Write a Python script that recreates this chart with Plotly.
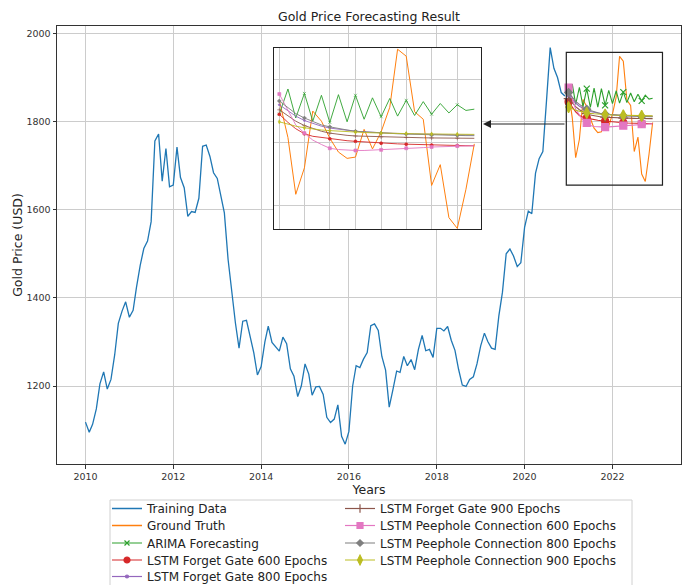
import pandas as pd
import plotly.graph_objects as go

# ---------------- data ----------------
train_start = "2010-01-01"
train_values = [
    1118, 1095, 1113, 1148, 1205, 1232, 1193, 1215, 1271, 1342, 1370, 1391,
    1356, 1372, 1424, 1474, 1512, 1529, 1573, 1756, 1772, 1665, 1739, 1652,
    1656, 1742, 1673, 1650, 1585, 1596, 1594, 1626, 1744, 1747, 1721, 1684,
    1671, 1627, 1593, 1487, 1414, 1343, 1286, 1347, 1349, 1316, 1275, 1225,
    1244, 1300, 1336, 1299, 1288, 1279, 1311, 1296, 1239, 1222, 1176, 1200,
    1250, 1227, 1179, 1198, 1199, 1181, 1129, 1117, 1125, 1157, 1086, 1068,
    1097, 1200, 1246, 1242, 1261, 1276, 1337, 1341, 1326, 1267, 1236, 1152,
    1192, 1234, 1231, 1267, 1246, 1260, 1237, 1283, 1315, 1280, 1283, 1265,
    1331, 1331, 1325, 1335, 1304, 1281, 1238, 1202, 1199, 1215, 1221, 1250,
    1291, 1320, 1301, 1286, 1283, 1359, 1413, 1500, 1511, 1495, 1471, 1480,
    1560, 1597, 1591, 1683, 1716, 1732, 1846, 1968, 1921, 1900, 1866, 1858,
]
test_start = "2021-01-01"
ground_truth = [1867, 1808, 1718, 1760, 1850, 1834, 1807, 1785, 1775, 1777, 1821, 1790,
                1817, 1856, 1948, 1937, 1849, 1837, 1732, 1765, 1681, 1664, 1726, 1798]
arima = [1845, 1885, 1839, 1878, 1834, 1875, 1832, 1876, 1833, 1875, 1837, 1871,
         1841, 1870, 1842, 1867, 1843, 1865, 1845, 1862, 1847, 1860, 1851, 1853]
fg600 = [1845, 1832, 1822, 1814, 1810, 1808, 1806, 1805, 1803, 1802, 1801, 1800,
         1799, 1798.5, 1798, 1797.5, 1797, 1796.5, 1796, 1795.8, 1795.5, 1795.3, 1795.1, 1795]
fg800 = [1860, 1850, 1842, 1835, 1830, 1826, 1823, 1821, 1819, 1818, 1817, 1816,
         1815.5, 1815, 1814.5, 1814, 1813.7, 1813.4, 1813.1, 1812.8, 1812.6, 1812.4, 1812.2, 1812]
fg900 = [1852, 1842, 1834, 1827, 1822, 1818, 1815, 1813, 1811.5, 1810.5, 1810, 1809.5,
         1809, 1808.7, 1808.4, 1808.1, 1807.8, 1807.6, 1807.4, 1807.2, 1807.1, 1807, 1806.9, 1806.8]
ph600 = [1877, 1850, 1828, 1815, 1804, 1797, 1791, 1789, 1788, 1787.5, 1787.5, 1788,
         1788.5, 1789, 1790, 1791, 1791.5, 1792, 1793, 1793.5, 1794, 1794.5, 1795, 1795]
ph800 = [1866, 1855, 1846, 1839, 1833, 1828, 1825, 1822, 1820, 1818, 1817, 1816,
         1815, 1814.5, 1814, 1813.5, 1813, 1812.5, 1812, 1811.8, 1811.5, 1811.3, 1811.1, 1811]
ph900 = [1833, 1829, 1826, 1823.5, 1821.5, 1820, 1819, 1818, 1817, 1816.5, 1816, 1815.5,
         1815, 1814.8, 1814.5, 1814.3, 1814, 1813.8, 1813.6, 1813.4, 1813.3, 1813.2, 1813.1, 1813]

train_dates = pd.date_range(train_start, periods=len(train_values), freq="MS")
test_dates = pd.date_range(test_start, periods=len(ground_truth), freq="MS")

# (name, values, color, symbol, main size, inset size)
forecasts = [
    ("ARIMA Forecasting", arima, "#2ca02c", "x-thin-open", 6, 3),
    ("LSTM Forget Gate 600 Epochs", fg600, "#d62728", "circle", 7, 3),
    ("LSTM Forget Gate 800 Epochs", fg800, "#9467bd", "circle", 4, 2),
    ("LSTM Forget Gate 900 Epochs", fg900, "#8c564b", "cross-thin-open", 7, 3),
    ("LSTM Peephole Connection 600 Epochs", ph600, "#e377c2", "square", 7, 3),
    ("LSTM Peephole Connection 800 Epochs", ph800, "#7f7f7f", "diamond", 6, 3),
    ("LSTM Peephole Connection 900 Epochs", ph900, "#bcbd22", "diamond-tall", 8, 3),
]

FONT = "DejaVu Sans"
W, H = 688, 585
L, R, T, B = 57, 681, 26, 464
pw, ph = R - L, B - T


def px_x(p):
    return (p - L) / pw


def px_y(p):
    return (B - p) / ph


fig = go.Figure()

# legend entries: one legend per row, two columns
legend_ids = ["legend"] + ["legend%d" % i for i in range(2, 10)]
row_y = [508.5, 525.5, 543, 560, 576.5]
legend_pos = [(107, row_y[i]) for i in range(5)] + [(340, row_y[i]) for i in range(4)]
legend_layout = {}
for lid, (lx, ly) in zip(legend_ids, legend_pos):
    legend_layout[lid] = dict(x=px_x(lx), y=px_y(ly), xanchor="left", yanchor="middle",
                              bgcolor="rgba(0,0,0,0)", borderwidth=0,
                              font=dict(family=FONT, size=12, color="#222222"), itemwidth=30)

entries = [("Training Data", "#1f77b4", None, 0), ("Ground Truth", "#ff7f0e", None, 0)] + \
          [(f[0], f[2], f[3], f[4] - 1) for f in forecasts]
for lid, (name, col, sym, ms) in zip(legend_ids, entries):
    if sym is None:
        fig.add_trace(go.Scatter(x=[None], y=[None], mode="lines", name=name,
                                 line=dict(color=col, width=1.5), legend=lid))
    else:
        fig.add_trace(go.Scatter(x=[None], y=[None], mode="lines+markers", name=name,
                                 line=dict(color=col, width=1.2),
                                 marker=dict(color=col, symbol=sym, size=ms, line=dict(color=col, width=1.2)),
                                 legend=lid))

# main plot
fig.add_trace(go.Scatter(x=train_dates, y=train_values, mode="lines", showlegend=False,
                         line=dict(color="#1f77b4", width=1.3), xaxis="x", yaxis="y"))
fig.add_trace(go.Scatter(x=test_dates, y=ground_truth, mode="lines", showlegend=False,
                         line=dict(color="#ff7f0e", width=1.1), xaxis="x", yaxis="y"))
for name, vals, col, sym, ms, msi in forecasts:
    fig.add_trace(go.Scatter(x=test_dates, y=vals, mode="lines", showlegend=False,
                             line=dict(color=col, width=1.1), xaxis="x", yaxis="y"))
    fig.add_trace(go.Scatter(x=test_dates[::5], y=vals[::5], mode="markers", showlegend=False,
                             marker=dict(color=col, symbol=sym, size=ms, line=dict(color=col, width=1.2)),
                             xaxis="x", yaxis="y"))

# inset
fig.add_trace(go.Scatter(x=test_dates, y=ground_truth, mode="lines", showlegend=False,
                         line=dict(color="#ff7f0e", width=1), xaxis="x2", yaxis="y2"))
for name, vals, col, sym, ms, msi in forecasts:
    fig.add_trace(go.Scatter(x=test_dates, y=vals, mode="lines", showlegend=False,
                             line=dict(color=col, width=0.9), xaxis="x2", yaxis="y2"))
    fig.add_trace(go.Scatter(x=test_dates[::3], y=vals[::3], mode="markers", showlegend=False,
                             marker=dict(color=col, symbol=sym, size=msi, line=dict(color=col, width=0.6)),
                             xaxis="x2", yaxis="y2"))

axis_common = dict(showline=True, mirror=True, linecolor="#333333", linewidth=1,
                   ticks="outside", ticklen=3.5, tickcolor="#333333",
                   showgrid=True, gridcolor="#cccccc", gridwidth=1, zeroline=False,
                   tickfont=dict(family=FONT, size=9.5, color="#333333"))

fig.update_layout(
    width=W, height=H,
    margin=dict(l=L, r=W - R, t=T, b=H - B, autoexpand=False),
    paper_bgcolor="white", plot_bgcolor="white",
    font=dict(family=FONT, color="#222222"),
    title=dict(text="Gold Price Forecasting Result", x=0.5, xref="paper", xanchor="center",
               y=1 - 17 / H, yref="container", yanchor="middle",
               font=dict(family=FONT, size=12.5, color="#222222")),
    xaxis=dict(**axis_common, type="date", range=["2009-05-09", "2023-07-25"],
               dtick="M24", tick0="2010-01-01", tickformat="%Y",
               title=dict(text="Years", font=dict(family=FONT, size=12.5, color="#222222"), standoff=0)),
    yaxis=dict(**axis_common, range=[1023, 2017], dtick=200, tick0=0,
               title=dict(text="Gold Price (USD)", font=dict(family=FONT, size=12.5, color="#222222"), standoff=1)),
    xaxis2=dict(domain=[px_x(274), px_x(481)], anchor="y2", type="date",
                range=["2020-12-13", "2022-12-25"], dtick="M3", tick0="2021-01-01",
                showticklabels=False, ticks="", showline=True, mirror=True,
                linecolor="#222222", linewidth=1.2, showgrid=True, gridcolor="#cccccc", zeroline=False),
    yaxis2=dict(domain=[px_y(229), px_y(48)], anchor="x2", range=[1663, 1950], dtick=100, tick0=0,
                showticklabels=False, ticks="", showline=True, mirror=True,
                linecolor="#222222", linewidth=1.2, showgrid=True, gridcolor="#cccccc", zeroline=False),
    shapes=[
        dict(type="rect", xref="x2 domain", yref="y2 domain", x0=0, x1=1, y0=0, y1=1,
             fillcolor="white", line=dict(width=0), layer="below"),
        dict(type="rect", xref="x", yref="y", x0="2020-12-13", x1="2023-02-21", y0=1656, y1=1957,
             line=dict(color="#222222", width=1.2), fillcolor="rgba(0,0,0,0)", layer="above"),
        dict(type="rect", xref="paper", yref="paper", x0=px_x(110), x1=px_x(632),
             y0=px_y(600), y1=px_y(500), line=dict(color="#d0d0d0", width=1),
             fillcolor="rgba(0,0,0,0)", layer="above"),
    ],
    annotations=[
        dict(xref="paper", yref="paper", x=px_x(483), y=px_y(124), ax=566 - 483, ay=0,
             axref="pixel", ayref="pixel", text="", showarrow=True, arrowhead=2,
             arrowsize=1.6, arrowwidth=1, arrowcolor="#222222", standoff=0),
    ],
    **legend_layout,
)

fig.write_html("out.html")
